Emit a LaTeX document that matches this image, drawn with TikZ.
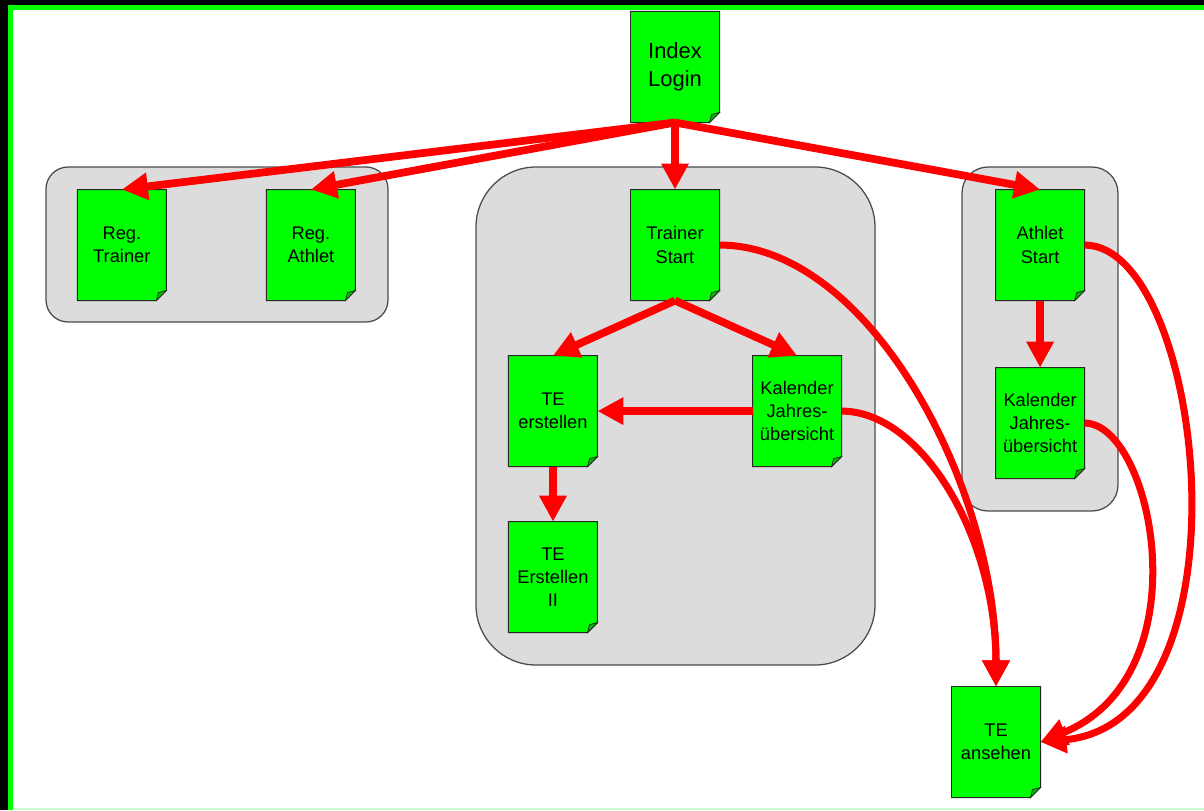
\documentclass[tikz,border=0pt]{standalone}
\usepackage{fontspec}
\setmainfont{Liberation Sans}
\usetikzlibrary{
  arrows.meta,
  positioning}

\definecolor{pagegreen}{RGB}{0,255,0}
\definecolor{foldgreen}{RGB}{0,185,0}
\definecolor{groupgray}{RGB}{220,220,220}
\definecolor{groupline}{RGB}{75,75,75}
\definecolor{bottomgreen}{RGB}{205,255,205}

\pgfdeclarelayer{groups}
\pgfdeclarelayer{pages}
\pgfsetlayers{groups,pages,main}

\begin{document}
\begin{tikzpicture}[x=0.025cm,y=-0.025cm]
  \tikzset{page/.style={rectangle,
                        minimum width=2.225cm,
                        minimum height=2.775cm,
                        inner sep=0pt,
                        outer sep=0pt,
                        align=center,
                        font=\fontsize{13pt}{16.6pt}\selectfont},
           page outline/.style={draw=black!85,line width=0.7pt,fill=pagegreen},
           group/.style={draw=groupline,line width=0.9pt,fill=groupgray},
           fold/.style={draw=black!85,line width=0.5pt,fill=foldgreen},
           link/.style={red,line width=5.5pt,-{Triangle[length=0.65cm,width=0.65cm]}},
           bend link/.style={link,line width=5pt}
           }

%%%%%%%%%%%%%%%%%%%%%%%%%%%%%%%%%%%%%%%%%%%%%%%%%%%%%%%%%%%%%%%%%%%%%%%%%%%%%%

\useasboundingbox (0,0) rectangle (1204,810);

\fill[black] (0,0) rectangle (1204,5);
\fill[black] (0,0) rectangle (8,810);
\fill[pagegreen] (8,5) rectangle (1204,10);
\fill[pagegreen] (8,5) rectangle (13,810);
\fill[bottomgreen] (13,808) rectangle (1204,810);

%%%%%%%%%%%%%%%%%%%%%%%%%%%%%%%%%%%%%%%%%%%%%%%%%%%%%%%%%%%%%%%%%%%%%%%%%%%%%%

\begin{pgfonlayer}{groups}
\draw[group,rounded corners=0.55cm] (46,167) rectangle (388,322);
\draw[group,rounded corners=1.5cm] (476,167) rectangle (875,665);
\draw[group,rounded corners=0.65cm] (962,167) rectangle (1118,511);
\end{pgfonlayer}

%%%%%%%%%%%%%%%%%%%%%%%%%%%%%%%%%%%%%%%%%%%%%%%%%%%%%%%%%%%%%%%%%%%%%%%%%%%%%%

\node[page,font=\fontsize{15.6pt}{19.5pt}\selectfont] (IL) at (675,67) {Index\\Login};

\node[page,below=1.675cm of IL] (TS) {Trainer\\Start};

\node[page,left=6.875cm of TS] (RA) {Reg.\\Athlet};

\node[page,left=2.5cm of RA] (RT) {Reg.\\Trainer};

\node[page,right=6.9cm of TS] (AS) {Athlet\\Start};

\node[page,below left=1.375cm and 0.825cm of TS] (TEE) {TE\\erstellen};

\node[page,below right=1.375cm and 0.825cm of TS] (KT) {Kalender\\Jahres-\\übersicht};

\node[page,below=1.375cm of TEE] (TE2) {TE\\Erstellen\\II};

\node[page,below=1.675cm of AS] (KA) {Kalender\\Jahres-\\übersicht};

\node[page] (TEA) at (996,742) {TE\\ansehen};

\begin{pgfonlayer}{pages}
\foreach \n in {IL,RT,RA,TS,TEE,KT,TE2,AS,KA,TEA} {
  \coordinate (corner) at (\n.south -| \n.east);
  \draw[page outline] (\n.north west) -- (\n.north east) -- ([yshift=0.25cm]corner)
        -- ([xshift=-0.25cm]corner) -- (\n.south west) -- cycle;
  \draw[fold] ([yshift=0.25cm]corner) -- ([xshift=-0.25cm]corner)
        -- ([xshift=-0.2cm,yshift=0.2cm]corner) -- cycle;
}
\end{pgfonlayer}

%%%%%%%%%%%%%%%%%%%%%%%%%%%%%%%%%%%%%%%%%%%%%%%%%%%%%%%%%%%%%%%%%%%%%%%%%%%%%%
\draw[link]  (IL.south) -- (RT.north);
\draw[link]  (IL.south) -- (RA.north);
\draw[link]  (IL.south) -- (TS.north);
\draw[link]  (IL.south) -- (AS.north);
\draw[link]  (TS.south) -- (TEE.north);
\draw[link]  (TS.south) -- (KT.north);
\draw[link]  (KT.west) -- (TEE.east);
\draw[link]  (TEE.south) -- (TE2.north);
\draw[link]  (AS.south) -- (KA.north);

\draw[bend link]  (TS.east) .. controls +(150,0) and +(0,-200) .. (TEA.north);
\draw[bend link]  (KT.east) .. controls +(80,0) and +(0,-150) .. (TEA.north);
\draw[bend link]  (AS.east) .. controls +(120,0) and +(216,-20) .. (TEA.east);
\draw[bend link]  (KA.east) .. controls +(68,0) and +(164,-67) .. (TEA.east);

%%%%%%%%%%%%%%%%%%%%%%%%%%%%%%%%%%%%%%%%%%%%%%%%%%%%%%%%%%%%%%%%%%%%%%%%%%%%%%

\end{tikzpicture}
\end{document}
